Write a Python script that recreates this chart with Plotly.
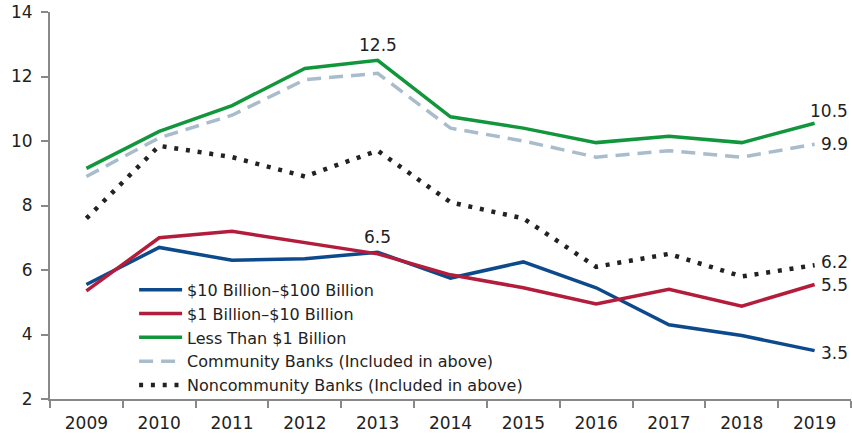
import plotly.graph_objects as go

years = ["2009", "2010", "2011", "2012", "2013", "2014", "2015", "2016", "2017", "2018", "2019"]
big = [5.55, 6.7, 6.3, 6.35, 6.55, 5.75, 6.25, 5.45, 4.3, 3.97, 3.5]
mid = [5.35, 7.0, 7.2, 6.85, 6.5, 5.85, 5.45, 4.95, 5.4, 4.88, 5.55]
small = [9.15, 10.3, 11.1, 12.25, 12.5, 10.75, 10.4, 9.95, 10.15, 9.95, 10.55]
community = [8.9, 10.1, 10.8, 11.9, 12.1, 10.4, 10.0, 9.5, 9.7, 9.5, 9.9]
noncommunity = [7.6, 9.85, 9.5, 8.9, 9.7, 8.1, 7.6, 6.1, 6.5, 5.8, 6.15]

names = ["$10 Billion–$100 Billion", "$1 Billion–$10 Billion", "Less Than $1 Billion",
         "Community Banks (Included in above)", "Noncommunity Banks (Included in above)"]
series = [big, mid, small, community, noncommunity]
colors = ["#0d4a8c", "#b41c3c", "#12963c", "#a8bccb", "#222222"]
dashes = ["solid", "solid", "solid", "14px,8px", "4px,7.8px"]
widths = [3.5, 3.5, 3.5, 3.5, 4.5]

FONT = "DejaVu Sans"

fig = go.Figure()
for n, s, c, d, w in zip(names, series, colors, dashes, widths):
    fig.add_trace(go.Scatter(x=years, y=s, name=n, mode="lines",
                             line=dict(color=c, width=w, dash=d)))

# end labels
end_labels = [("10.5", small[-1], 12), ("9.9", community[-1], 0), ("6.2", noncommunity[-1], 3),
              ("5.5", mid[-1], 0), ("3.5", big[-1], -2)]
for txt, yv, ys in end_labels:
    fig.add_annotation(x=1, xref="paper", y=yv, yref="y", text=txt, showarrow=False,
                       xanchor="right", xshift=-1, yshift=ys,
                       font=dict(family=FONT, size=17, color="#222"))
i2013 = years.index("2013")
fig.add_annotation(x=i2013, y=small[i2013], text="12.5", showarrow=False, yanchor="bottom", yshift=3,
                   font=dict(family=FONT, size=17, color="#222"))
fig.add_annotation(x=i2013, y=big[i2013], text="6.5", showarrow=False, yanchor="bottom", yshift=3,
                   font=dict(family=FONT, size=17, color="#222"))

fig.update_layout(
    width=852, height=438,
    margin=dict(l=50, r=1, t=12, b=39),
    paper_bgcolor="white", plot_bgcolor="white",
    font=dict(family=FONT, size=17, color="#222"),
    showlegend=True,
    legend=dict(x=0.105, y=0.326, xanchor="left", yanchor="top",
                bgcolor="rgba(0,0,0,0)", font=dict(family=FONT, size=16, color="#222"),
                itemwidth=43, tracegroupgap=0),
    xaxis=dict(type="category", showgrid=False, showline=True, linecolor="#888", linewidth=2,
               ticks="outside", tickson="boundaries", ticklen=7, tickcolor="#888", tickwidth=2,
               ticklabelstandoff=8,
               tickfont=dict(family=FONT, size=17, color="#222"), range=[-0.5, 10.5]),
    yaxis=dict(range=[2, 14], dtick=2, showgrid=False, zeroline=False, showline=True,
               linecolor="#888", linewidth=2, ticks="outside", ticklen=7, tickcolor="#888",
               tickwidth=2, ticklabelstandoff=5, tickfont=dict(family=FONT, size=17, color="#222")),
)

fig.write_html("out.html", config={"displayModeBar": False},
               post_script="document.body.style.margin='0';")
